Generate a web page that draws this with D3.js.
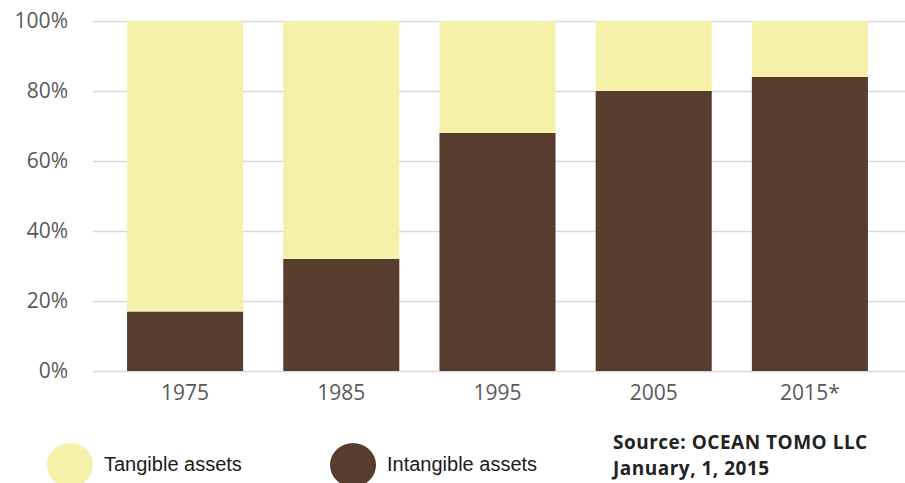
<!DOCTYPE html>
<html>
<head>
<meta charset="utf-8">
<script src="https://cdn.jsdelivr.net/npm/d3@7"></script>
<style>
	body { margin: 0; background: #ffffff; }
	svg { display: block; }
</style>
</head>
<body>
<svg id="chart" width="905" height="483"></svg>
<script>
/* chart data */
var years = ["1975", "1985", "1995", "2005", "2015*"];
var intangible_Values = [17, 32, 68, 80, 84];
var tangible_Values = [83, 68, 32, 20, 16];
var y_Ticks = [0, 20, 40, 60, 80, 100];
var series_Names = ["Tangible assets", "Intangible assets"];
var source_Lines = ["Source: OCEAN TOMO LLC", "January, 1, 2015"];

/* colours */
var tangible_Colour = "#F5F1A9";
var intangible_Colour = "#573D2D";
var grid_Colour = "#D9D9D9";
var label_Colour = "#595959";

var svg = d3.select("#chart");

var x = d3.scaleBand()
	.domain(years)
	.range([107, 888])
	.paddingInner(0.257)
	.paddingOuter(0.1285);

var y = d3.scaleLinear()
	.domain([0, 100])
	.range([371, 21]);

/* gridlines + y labels */
var y_Axis = svg.append("g")
	.attr("transform", "translate(93,0)")
	.call(d3.axisLeft(y)
		.tickValues(y_Ticks)
		.tickSize(-812)
		.tickPadding(25)
		.tickFormat(function(d){ return d + "%"; }));

y_Axis.select(".domain").remove();
y_Axis.selectAll("line")
	.attr("stroke", grid_Colour)
	.attr("stroke-width", 1.5);
y_Axis.selectAll("text")
	.attr("fill", label_Colour)
	.style("font-family", "'Open Sans', sans-serif")
	.style("font-size", "21px");

/* stacked bars: intangible at bottom, tangible on top */
var bars = svg.append("g");

bars.selectAll(".intangible")
	.data(years)
	.enter().append("rect")
	.attr("class", "intangible")
	.attr("x", function(d){ return x(d); })
	.attr("width", x.bandwidth())
	.attr("y", function(d, i){ return y(intangible_Values[i]); })
	.attr("height", function(d, i){ return y(0) - y(intangible_Values[i]); })
	.attr("fill", intangible_Colour);

bars.selectAll(".tangible")
	.data(years)
	.enter().append("rect")
	.attr("class", "tangible")
	.attr("x", function(d){ return x(d); })
	.attr("width", x.bandwidth())
	.attr("y", function(d, i){ return y(intangible_Values[i] + tangible_Values[i]); })
	.attr("height", function(d, i){ return y(intangible_Values[i]) - y(intangible_Values[i] + tangible_Values[i]); })
	.attr("fill", tangible_Colour);

/* x axis labels */
var x_Axis = svg.append("g")
	.attr("transform", "translate(0,371)")
	.call(d3.axisBottom(x).tickSize(0).tickPadding(14));

x_Axis.select(".domain").remove();
x_Axis.selectAll("text")
	.attr("fill", label_Colour)
	.style("font-family", "'Open Sans', sans-serif")
	.style("font-size", "21px");

/* legend */
var legend_Colours = [tangible_Colour, intangible_Colour];
var legend_X = [70, 353];

var legend = svg.append("g").selectAll("g")
	.data(series_Names)
	.enter().append("g")
	.attr("transform", function(d, i){ return "translate(" + legend_X[i] + ",465)"; });

legend.append("ellipse")
	.attr("rx", 23)
	.attr("ry", 22)
	.attr("fill", function(d, i){ return legend_Colours[i]; });

legend.append("text")
	.attr("x", 34)
	.attr("y", 6)
	.attr("fill", "#1a1a1a")
	.style("font-family", "'Liberation Sans', sans-serif")
	.style("font-size", "20px")
	.text(function(d){ return d; });

/* source note */
svg.append("g").selectAll("text")
	.data(source_Lines)
	.enter().append("text")
	.attr("x", 613)
	.attr("y", function(d, i){ return 449 + i * 26; })
	.attr("fill", "#222222")
	.style("font-family", "'Open Sans', sans-serif")
	.style("font-weight", "bold")
	.style("font-size", "19px")
	.style("letter-spacing", "0.5px")
	.text(function(d){ return d; });
</script>
</body>
</html>
